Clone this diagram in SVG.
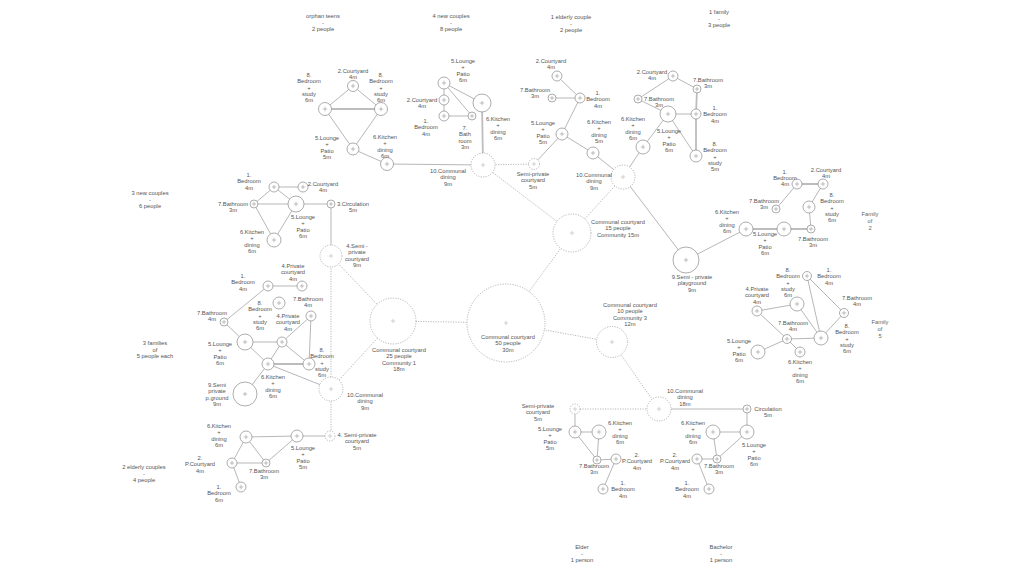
<svg xmlns="http://www.w3.org/2000/svg" xmlns:xlink="http://www.w3.org/1999/xlink" width="1024" height="576" viewBox="0 0 1024 576">
<style>
text{font-family:"Liberation Sans",Arial,sans-serif;font-size:5.8px;fill:#555;text-anchor:middle}
.lt{fill:#666}
.n{fill:#fff;stroke:#8a8a8a;stroke-width:0.7}
.d{fill:#fff;stroke:#999;stroke-width:0.7;stroke-dasharray:1.2 1.3}
.p{stroke:#999;stroke-width:0.6;fill:none}
.pd{stroke:#bbb;stroke-width:0.6;fill:none}
.e{stroke:#a5a5a5;stroke-width:0.8;fill:none}
.t{stroke:#bdbdbd;stroke-width:1.8;fill:none}
.ed{stroke:#999;stroke-width:0.7;stroke-dasharray:1.2 1.3;fill:none}
</style>
<defs>
<path id="pl" class="p" d="M-2.2,0H2.2M0,-2.2V2.2"/>
<path id="pld" class="pd" d="M-2.2,0H2.2M0,-2.2V2.2"/>
</defs>
<rect width="1024" height="576" fill="#fff"/>

<g id="connectors">
<path class="e" d="M353,86L325,109M353,86L381,109M325,109L353,149M381,109L353,149M353,149L387,164M387,164L483,165"/>
<path class="t" d="M325,109L381,109"/>
<path class="e" d="M444,83L444,100M444,100L444,116M444,83L472,116M444,83L482,103M444,116L472,116"/>
<path class="t" d="M482,103L483,165"/>
<path class="e" d="M557,76L580,98M552,98L580,98M580,98L562,134M562,134L593,153M562,134L534,164M593,153L623,177"/>
<path class="e" d="M673,76L638,99M673,76L697,89M638,99L668,114M668,114L696,114M668,114L696,156M668,114L643,147M643,147L623,177"/>
<path class="t" d="M697,89L696,114L696,156"/>
<path class="e" d="M623,177L686,260"/>
<path class="e" d="M797,184L776,209M823,184L809,207M809,207L811,229M746,229L686,260"/>
<path class="t" d="M797,184L823,184M746,229L784,229L811,229"/>
<path class="e" d="M807,276L821,338M807,276L844,313M757,311L797,304M757,311L787,339M797,304L821,338M787,339L821,338M844,313L821,338M787,339L758,352M787,339L800,352"/>
<path class="e" d="M274,187L303,187M274,187L254,204M274,187L296,204M254,204L296,204M254,204L274,240M296,204L274,240M296,204L331,204M331,204L331,256"/>
<path class="e" d="M268,286L302,286M268,286L224,322M224,322L245,342M245,342L282,342M245,342L268,364M282,342L311,316M282,342L309,364M282,342L268,364M311,316L309,364M268,364L331,389M268,364L245,394"/>
<path class="t" d="M268,364L309,364"/>
<path class="e" d="M246,437L297,436M246,437L232,463M246,437L266,463M232,463L266,463M266,463L297,436M232,463L241,487M297,436L330,436"/>
<path class="e" d="M575,409L575,432M575,432L599,432M575,432L597,460M599,432L597,460M597,460L616,459M616,459L603,489"/>
<path class="e" d="M659,409L747,409M747,409L747,432M713,432L747,432M713,432L717,459M747,432L717,459M697,459L717,459M697,459L709,489"/>
<path class="ed" d="M483,165L534,164M483,165L572,233M623,177L572,233M572,233L506,323M393,321L506,323M506,323L612,342M612,342L659,409M575,409L659,409M331,256L393,321M331,389L393,321M331,256L331,389M331,389L331,436"/>
</g>

<g id="group-labels">
<text x="323" y="18"><tspan x="323">orphan teens</tspan><tspan x="323" dy="6.5">-</tspan><tspan x="323" dy="6.5">2 people</tspan></text>
<text x="451" y="18"><tspan x="451">4 new couples</tspan><tspan x="451" dy="6.5">-</tspan><tspan x="451" dy="6.5">8 people</tspan></text>
<text x="571" y="19"><tspan x="571">1 elderly couple</tspan><tspan x="571" dy="6.5">-</tspan><tspan x="571" dy="6.5">2 people</tspan></text>
<text x="719" y="14"><tspan x="719">1 family</tspan><tspan x="719" dy="6.5">-</tspan><tspan x="719" dy="6.5">3 people</tspan></text>
<text x="150" y="195"><tspan x="150">3 new couples</tspan><tspan x="150" dy="6.5">-</tspan><tspan x="150" dy="6.5">6 people</tspan></text>
<text x="155" y="345"><tspan x="155">3 families</tspan><tspan x="155" dy="6.5">of</tspan><tspan x="155" dy="6.5">5 people each</tspan></text>
<text x="144" y="469"><tspan x="144">2 elderly couples</tspan><tspan x="144" dy="6.5">-</tspan><tspan x="144" dy="6.5">4 people</tspan></text>
<text x="870" y="216" class="lt"><tspan x="870">Family</tspan><tspan x="870" dy="7">of</tspan><tspan x="870" dy="7">2</tspan></text>
<text x="880" y="324" class="lt"><tspan x="880">Family</tspan><tspan x="880" dy="7">of</tspan><tspan x="880" dy="7">5</tspan></text>
<text x="582" y="549"><tspan x="582">Elder</tspan><tspan x="582" dy="6.5">-</tspan><tspan x="582" dy="6.5">1 person</tspan></text>
<text x="721" y="549"><tspan x="721">Bachelor</tspan><tspan x="721" dy="6.5">-</tspan><tspan x="721" dy="6.5">1 person</tspan></text>
</g>

<g id="a-courtyard"><circle class="n" cx="353" cy="86" r="5.5"/><use href="#pl" x="353" y="86"/><text x="353" y="73"><tspan x="353">2.Courtyard</tspan><tspan x="353" dy="6.3">4m</tspan></text></g>
<g id="a-bedroom1"><circle class="n" cx="325" cy="109" r="6.5"/><use href="#pl" x="325" y="109"/><text x="309" y="77"><tspan x="309">8.</tspan><tspan x="309" dy="6.3">Bedroom</tspan><tspan x="309" dy="6.3">+</tspan><tspan x="309" dy="6.3">study</tspan><tspan x="309" dy="6.3">6m</tspan></text></g>
<g id="a-bedroom2"><circle class="n" cx="381" cy="109" r="6.5"/><use href="#pl" x="381" y="109"/><text x="381" y="77"><tspan x="381">8.</tspan><tspan x="381" dy="6.3">Bedroom</tspan><tspan x="381" dy="6.3">+</tspan><tspan x="381" dy="6.3">study</tspan><tspan x="381" dy="6.3">6m</tspan></text></g>
<g id="a-lounge"><circle class="n" cx="353" cy="149" r="6"/><use href="#pl" x="353" y="149"/><text x="327" y="140"><tspan x="327">5.Lounge</tspan><tspan x="327" dy="6.3">+</tspan><tspan x="327" dy="6.3">Patio</tspan><tspan x="327" dy="6.3">5m</tspan></text></g>
<g id="a-kitchen"><circle class="n" cx="387" cy="164" r="6.5"/><use href="#pl" x="387" y="164"/><text x="385" y="139"><tspan x="385">6.Kitchen</tspan><tspan x="385" dy="6.3">+</tspan><tspan x="385" dy="6.3">dining</tspan><tspan x="385" dy="6.3">6m</tspan></text></g>
<g id="communal-dining-1"><circle class="d" cx="483" cy="165" r="12"/><use href="#pld" x="483" y="165"/><text x="448" y="173"><tspan x="448">10.Communal</tspan><tspan x="448" dy="6.3">dining</tspan><tspan x="448" dy="6.3">9m</tspan></text></g>

<g id="b-lounge"><circle class="n" cx="444" cy="83" r="6"/><use href="#pl" x="444" y="83"/><text x="463" y="63"><tspan x="463">5.Lounge</tspan><tspan x="463" dy="6.3">+</tspan><tspan x="463" dy="6.3">Patio</tspan><tspan x="463" dy="6.3">6m</tspan></text></g>
<g id="b-courtyard"><circle class="n" cx="444" cy="100" r="5"/><use href="#pl" x="444" y="100"/><text x="422" y="102"><tspan x="422">2.Courtyard</tspan><tspan x="422" dy="6.3">4m</tspan></text></g>
<g id="b-bedroom"><circle class="n" cx="444" cy="116" r="5"/><use href="#pl" x="444" y="116"/><text x="426" y="123"><tspan x="426">1.</tspan><tspan x="426" dy="6.3">Bedroom</tspan><tspan x="426" dy="6.3">4m</tspan></text></g>
<g id="b-bathroom"><circle class="n" cx="472" cy="116" r="4"/><use href="#pl" x="472" y="116"/><text x="465" y="130"><tspan x="465">7.</tspan><tspan x="465" dy="6.3">Bath</tspan><tspan x="465" dy="6.3">room</tspan><tspan x="465" dy="6.3">3m</tspan></text></g>
<g id="b-kitchen"><circle class="n" cx="482" cy="103" r="9"/><use href="#pl" x="482" y="103"/><text x="498" y="121"><tspan x="498">6.Kitchen</tspan><tspan x="498" dy="6.3">+</tspan><tspan x="498" dy="6.3">dining</tspan><tspan x="498" dy="6.3">6m</tspan></text></g>
<g id="semi-private-1"><circle class="d" cx="534" cy="164" r="5.5"/><use href="#pld" x="534" y="164"/><text x="533" y="176"><tspan x="533">Semi-private</tspan><tspan x="533" dy="6.3">courtyard</tspan><tspan x="533" dy="6.3">5m</tspan></text></g>

<g id="c-courtyard"><circle class="n" cx="557" cy="76" r="5"/><use href="#pl" x="557" y="76"/><text x="551" y="63"><tspan x="551">2.Courtyard</tspan><tspan x="551" dy="6.3">4m</tspan></text></g>
<g id="c-bedroom"><circle class="n" cx="580" cy="98" r="5"/><use href="#pl" x="580" y="98"/><text x="598" y="95"><tspan x="598">1.</tspan><tspan x="598" dy="6.3">Bedroom</tspan><tspan x="598" dy="6.3">4m</tspan></text></g>
<g id="c-bathroom"><circle class="n" cx="552" cy="98" r="4"/><use href="#pl" x="552" y="98"/><text x="535" y="92"><tspan x="535">7.Bathroom</tspan><tspan x="535" dy="6.3">3m</tspan></text></g>
<g id="c-lounge"><circle class="n" cx="562" cy="134" r="6"/><use href="#pl" x="562" y="134"/><text x="543" y="125"><tspan x="543">5.Lounge</tspan><tspan x="543" dy="6.3">+</tspan><tspan x="543" dy="6.3">Patio</tspan><tspan x="543" dy="6.3">5m</tspan></text></g>
<g id="c-kitchen"><circle class="n" cx="593" cy="153" r="6"/><use href="#pl" x="593" y="153"/><text x="599" y="124"><tspan x="599">6.Kitchen</tspan><tspan x="599" dy="6.3">+</tspan><tspan x="599" dy="6.3">dining</tspan><tspan x="599" dy="6.3">5m</tspan></text></g>
<g id="communal-dining-2"><circle class="d" cx="623" cy="177" r="12"/><use href="#pld" x="623" y="177"/><text x="594" y="177"><tspan x="594">10.Communal</tspan><tspan x="594" dy="6.3">dining</tspan><tspan x="594" dy="6.3">9m</tspan></text></g>

<g id="d-courtyard"><circle class="n" cx="673" cy="76" r="5"/><use href="#pl" x="673" y="76"/><text x="652" y="74"><tspan x="652">2.Courtyard</tspan><tspan x="652" dy="6.3">4m</tspan></text></g>
<g id="d-bathroom1"><circle class="n" cx="697" cy="89" r="4"/><use href="#pl" x="697" y="89"/><text x="708" y="82"><tspan x="708">7.Bathroom</tspan><tspan x="708" dy="6.3">3m</tspan></text></g>
<g id="d-bathroom2"><circle class="n" cx="638" cy="99" r="4"/><use href="#pl" x="638" y="99"/><text x="659" y="101"><tspan x="659">7.Bathroom</tspan><tspan x="659" dy="6.3">3m</tspan></text></g>
<g id="d-lounge"><circle class="n" cx="668" cy="114" r="8"/><use href="#pl" x="668" y="114"/><text x="669" y="133"><tspan x="669">5.Lounge</tspan><tspan x="669" dy="6.3">+</tspan><tspan x="669" dy="6.3">Patio</tspan><tspan x="669" dy="6.3">6m</tspan></text></g>
<g id="d-bedroom"><circle class="n" cx="696" cy="114" r="5"/><use href="#pl" x="696" y="114"/><text x="715" y="110"><tspan x="715">1.</tspan><tspan x="715" dy="6.3">Bedroom</tspan><tspan x="715" dy="6.3">4m</tspan></text></g>
<g id="d-study"><circle class="n" cx="696" cy="156" r="6"/><use href="#pl" x="696" y="156"/><text x="715" y="146"><tspan x="715">8.</tspan><tspan x="715" dy="6.3">Bedroom</tspan><tspan x="715" dy="6.3">+</tspan><tspan x="715" dy="6.3">study</tspan><tspan x="715" dy="6.3">5m</tspan></text></g>
<g id="d-kitchen"><circle class="n" cx="643" cy="147" r="7"/><use href="#pl" x="643" y="147"/><text x="633" y="121"><tspan x="633">6.Kitchen</tspan><tspan x="633" dy="6.3">+</tspan><tspan x="633" dy="6.3">dining</tspan><tspan x="633" dy="6.3">6m</tspan></text></g>
<g id="playground"><circle class="n" cx="686" cy="260" r="13"/><use href="#pl" x="686" y="260"/><text x="692" y="279"><tspan x="692">9.Semi - private</tspan><tspan x="692" dy="6.3">playground</tspan><tspan x="692" dy="6.3">9m</tspan></text></g>

<g id="e-bedroom"><circle class="n" cx="797" cy="184" r="5"/><use href="#pl" x="797" y="184"/><text x="785" y="174"><tspan x="785">1.</tspan><tspan x="785" dy="6">Bedroom</tspan><tspan x="785" dy="6">4m</tspan></text></g>
<g id="e-courtyard"><circle class="n" cx="823" cy="184" r="5"/><use href="#pl" x="823" y="184"/><text x="826" y="172"><tspan x="826">2.Courtyard</tspan><tspan x="826" dy="6.3">4m</tspan></text></g>
<g id="e-bathroom1"><circle class="n" cx="776" cy="209" r="4"/><use href="#pl" x="776" y="209"/><text x="764" y="203"><tspan x="764">7.Bathroom</tspan><tspan x="764" dy="6.3">3m</tspan></text></g>
<g id="e-study"><circle class="n" cx="809" cy="207" r="6"/><use href="#pl" x="809" y="207"/><text x="832" y="197"><tspan x="832">8.</tspan><tspan x="832" dy="6.3">Bedroom</tspan><tspan x="832" dy="6.3">+</tspan><tspan x="832" dy="6.3">study</tspan><tspan x="832" dy="6.3">6m</tspan></text></g>
<g id="e-kitchen"><circle class="n" cx="746" cy="229" r="7"/><use href="#pl" x="746" y="229"/><text x="727" y="214"><tspan x="727">6.Kitchen</tspan><tspan x="727" dy="6.3">+</tspan><tspan x="727" dy="6.3">dining</tspan><tspan x="727" dy="6.3">6m</tspan></text></g>
<g id="e-lounge"><circle class="n" cx="784" cy="229" r="7"/><use href="#pl" x="784" y="229"/><text x="765" y="236"><tspan x="765">5.Lounge</tspan><tspan x="765" dy="6.3">+</tspan><tspan x="765" dy="6.3">Patio</tspan><tspan x="765" dy="6.3">6m</tspan></text></g>
<g id="e-bathroom2"><circle class="n" cx="811" cy="229" r="4"/><use href="#pl" x="811" y="229"/><text x="813" y="241"><tspan x="813">7.Bathroom</tspan><tspan x="813" dy="6.3">3m</tspan></text></g>

<g id="f-bedroom"><circle class="n" cx="807" cy="276" r="4.5"/><use href="#pl" x="807" y="276"/><text x="829" y="272"><tspan x="829">1.</tspan><tspan x="829" dy="6.3">Bedroom</tspan><tspan x="829" dy="6.3">4m</tspan></text></g>
<g id="f-study1"><circle class="n" cx="797" cy="304" r="7"/><use href="#pl" x="797" y="304"/><text x="788" y="272"><tspan x="788">8.</tspan><tspan x="788" dy="6.3">Bedroom</tspan><tspan x="788" dy="6.3">+</tspan><tspan x="788" dy="6.3">study</tspan><tspan x="788" dy="6.3">6m</tspan></text></g>
<g id="f-courtyard"><circle class="n" cx="757" cy="311" r="5"/><use href="#pl" x="757" y="311"/><text x="757" y="291"><tspan x="757">4.Private</tspan><tspan x="757" dy="6.3">courtyard</tspan><tspan x="757" dy="6.3">4m</tspan></text></g>
<g id="f-bathroom1"><circle class="n" cx="844" cy="313" r="4.5"/><use href="#pl" x="844" y="313"/><text x="857" y="300"><tspan x="857">7.Bathroom</tspan><tspan x="857" dy="6.3">4m</tspan></text></g>
<g id="f-bathroom2"><circle class="n" cx="787" cy="339" r="4.5"/><use href="#pl" x="787" y="339"/><text x="793" y="325"><tspan x="793">7.Bathroom</tspan><tspan x="793" dy="6.3">4m</tspan></text></g>
<g id="f-study2"><circle class="n" cx="821" cy="338" r="7"/><use href="#pl" x="821" y="338"/><text x="847" y="328"><tspan x="847">8.</tspan><tspan x="847" dy="6.3">Bedroom</tspan><tspan x="847" dy="6.3">+</tspan><tspan x="847" dy="6.3">study</tspan><tspan x="847" dy="6.3">6m</tspan></text></g>
<g id="f-lounge"><circle class="n" cx="758" cy="352" r="7"/><use href="#pl" x="758" y="352"/><text x="739" y="343"><tspan x="739">5.Lounge</tspan><tspan x="739" dy="6.3">+</tspan><tspan x="739" dy="6.3">Patio</tspan><tspan x="739" dy="6.3">6m</tspan></text></g>
<g id="f-kitchen"><circle class="n" cx="800" cy="352" r="5"/><use href="#pl" x="800" y="352"/><text x="800" y="364"><tspan x="800">6.Kitchen</tspan><tspan x="800" dy="6.3">+</tspan><tspan x="800" dy="6.3">dining</tspan><tspan x="800" dy="6.3">6m</tspan></text></g>

<g id="g-bedroom"><circle class="n" cx="274" cy="187" r="5"/><use href="#pl" x="274" y="187"/><text x="249" y="177"><tspan x="249">1.</tspan><tspan x="249" dy="6.3">Bedroom</tspan><tspan x="249" dy="6.3">4m</tspan></text></g>
<g id="g-courtyard"><circle class="n" cx="303" cy="187" r="5"/><use href="#pl" x="303" y="187"/><text x="323" y="186"><tspan x="323">2.Courtyard</tspan><tspan x="323" dy="6.3">4m</tspan></text></g>
<g id="g-bathroom"><circle class="n" cx="254" cy="204" r="4"/><use href="#pl" x="254" y="204"/><text x="233" y="206"><tspan x="233">7.Bathroom</tspan><tspan x="233" dy="6.3">3m</tspan></text></g>
<g id="g-lounge"><circle class="n" cx="296" cy="204" r="8"/><use href="#pl" x="296" y="204"/><text x="303" y="219"><tspan x="303">5.Lounge</tspan><tspan x="303" dy="6.3">+</tspan><tspan x="303" dy="6.3">Patio</tspan><tspan x="303" dy="6.3">6m</tspan></text></g>
<g id="g-circulation"><circle class="n" cx="331" cy="204" r="4"/><use href="#pl" x="331" y="204"/><text x="353" y="206"><tspan x="353">3.Circulation</tspan><tspan x="353" dy="6.3">5m</tspan></text></g>
<g id="g-kitchen"><circle class="n" cx="274" cy="240" r="7"/><use href="#pl" x="274" y="240"/><text x="252" y="234"><tspan x="252">6.Kitchen</tspan><tspan x="252" dy="6.3">+</tspan><tspan x="252" dy="6.3">dining</tspan><tspan x="252" dy="6.3">6m</tspan></text></g>
<g id="semi-private-4"><circle class="d" cx="331" cy="256" r="11"/><use href="#pld" x="331" y="256"/><text x="357" y="248"><tspan x="357">4.Semi -</tspan><tspan x="357" dy="6.3">private</tspan><tspan x="357" dy="6.3">courtyard</tspan><tspan x="357" dy="6.3">9m</tspan></text></g>

<g id="h-bedroom"><circle class="n" cx="268" cy="286" r="5"/><use href="#pl" x="268" y="286"/><text x="243" y="278"><tspan x="243">1.</tspan><tspan x="243" dy="6.3">Bedroom</tspan><tspan x="243" dy="6.3">4m</tspan></text></g>
<g id="h-courtyard1"><circle class="n" cx="302" cy="286" r="5"/><use href="#pl" x="302" y="286"/><text x="293" y="268"><tspan x="293">4.Private</tspan><tspan x="293" dy="6.3">courtyard</tspan><tspan x="293" dy="6.3">4m</tspan></text></g>
<g id="h-study1"><circle class="n" cx="279" cy="303" r="6"/><use href="#pl" x="279" y="303"/><text x="260" y="305"><tspan x="260">8.</tspan><tspan x="260" dy="6.3">Bedroom</tspan><tspan x="260" dy="6.3">+</tspan><tspan x="260" dy="6.3">study</tspan><tspan x="260" dy="6.3">6m</tspan></text></g>
<g id="h-bathroom1"><circle class="n" cx="311" cy="316" r="5"/><use href="#pl" x="311" y="316"/><text x="308" y="301"><tspan x="308">7.Bathroom</tspan><tspan x="308" dy="6.3">4m</tspan></text></g>
<g id="h-bathroom2"><circle class="n" cx="224" cy="322" r="4"/><use href="#pl" x="224" y="322"/><text x="212" y="315"><tspan x="212">7.Bathroom</tspan><tspan x="212" dy="6.3">4m</tspan></text></g>
<g id="h-courtyard2"><circle class="n" cx="282" cy="342" r="5"/><use href="#pl" x="282" y="342"/><text x="288" y="318"><tspan x="288">4.Private</tspan><tspan x="288" dy="6.3">courtyard</tspan><tspan x="288" dy="6.3">4m</tspan></text></g>
<g id="h-lounge"><circle class="n" cx="245" cy="342" r="8"/><use href="#pl" x="245" y="342"/><text x="220" y="346"><tspan x="220">5.Lounge</tspan><tspan x="220" dy="6.3">+</tspan><tspan x="220" dy="6.3">Patio</tspan><tspan x="220" dy="6.3">6m</tspan></text></g>
<g id="h-kitchen"><circle class="n" cx="268" cy="364" r="6"/><use href="#pl" x="268" y="364"/><text x="273" y="379"><tspan x="273">6.Kitchen</tspan><tspan x="273" dy="6.3">+</tspan><tspan x="273" dy="6.3">dining</tspan><tspan x="273" dy="6.3">6m</tspan></text></g>
<g id="h-study2"><circle class="n" cx="309" cy="364" r="6"/><use href="#pl" x="309" y="364"/><text x="322" y="352"><tspan x="322">8.</tspan><tspan x="322" dy="6.3">Bedroom</tspan><tspan x="322" dy="6.3">+</tspan><tspan x="322" dy="6.3">study</tspan><tspan x="322" dy="6.3">6m</tspan></text></g>
<g id="h-playground"><circle class="n" cx="245" cy="394" r="12"/><use href="#pl" x="245" y="394"/><text x="217" y="387"><tspan x="217">9.Semi</tspan><tspan x="217" dy="6.3">private</tspan><tspan x="217" dy="6.3">p.ground</tspan><tspan x="217" dy="6.3">9m</tspan></text></g>
<g id="communal-dining-3"><circle class="d" cx="331" cy="389" r="12"/><use href="#pld" x="331" y="389"/><text x="365" y="397"><tspan x="365">10.Communal</tspan><tspan x="365" dy="6.3">dining</tspan><tspan x="365" dy="6.3">9m</tspan></text></g>

<g id="courtyard-15"><circle class="d" cx="572" cy="233" r="19"/><use href="#pld" x="572" y="233"/><text x="618" y="224"><tspan x="618">Communal courtyard</tspan><tspan x="618" dy="6.3">15 people</tspan><tspan x="618" dy="6.3">Community 15m</tspan></text></g>
<g id="courtyard-25"><circle class="d" cx="393" cy="321" r="23"/><use href="#pld" x="393" y="321"/><text x="399" y="352"><tspan x="399">Communal courtyard</tspan><tspan x="399" dy="6.3">25 people</tspan><tspan x="399" dy="6.3">Community 1</tspan><tspan x="399" dy="6.3">18m</tspan></text></g>
<g id="courtyard-50"><circle class="d" cx="506" cy="323" r="39"/><use href="#pld" x="506" y="323"/><text x="508" y="339"><tspan x="508">Communal courtyard</tspan><tspan x="508" dy="6.3">50 people</tspan><tspan x="508" dy="6.3">30m</tspan></text></g>
<g id="courtyard-10"><circle class="d" cx="612" cy="342" r="15.5"/><use href="#pld" x="612" y="342"/><text x="630" y="307"><tspan x="630">Communal courtyard</tspan><tspan x="630" dy="6.3">10 people</tspan><tspan x="630" dy="6.3">Community 3</tspan><tspan x="630" dy="6.3">12m</tspan></text></g>

<g id="i-kitchen"><circle class="n" cx="246" cy="437" r="6"/><use href="#pl" x="246" y="437"/><text x="219" y="428"><tspan x="219">6.Kitchen</tspan><tspan x="219" dy="6.3">+</tspan><tspan x="219" dy="6.3">dining</tspan><tspan x="219" dy="6.3">6m</tspan></text></g>
<g id="i-lounge"><circle class="n" cx="297" cy="436" r="6"/><use href="#pl" x="297" y="436"/><text x="303" y="450"><tspan x="303">5.Lounge</tspan><tspan x="303" dy="6.3">+</tspan><tspan x="303" dy="6.3">Patio</tspan><tspan x="303" dy="6.3">5m</tspan></text></g>
<g id="semi-private-5"><circle class="d" cx="330" cy="436" r="5"/><use href="#pld" x="330" y="436"/><text x="357" y="437"><tspan x="357">4. Semi-private</tspan><tspan x="357" dy="6.3">courtyard</tspan><tspan x="357" dy="6.3">5m</tspan></text></g>
<g id="i-courtyard"><circle class="n" cx="232" cy="463" r="5"/><use href="#pl" x="232" y="463"/><text x="200" y="460"><tspan x="200">2.</tspan><tspan x="200" dy="6.3">P.Courtyard</tspan><tspan x="200" dy="6.3">4m</tspan></text></g>
<g id="i-bathroom"><circle class="n" cx="266" cy="463" r="4"/><use href="#pl" x="266" y="463"/><text x="264" y="473"><tspan x="264">7.Bathroom</tspan><tspan x="264" dy="6.3">3m</tspan></text></g>
<g id="i-bedroom"><circle class="n" cx="241" cy="487" r="5"/><use href="#pl" x="241" y="487"/><text x="219" y="489"><tspan x="219">1.</tspan><tspan x="219" dy="6.3">Bedroom</tspan><tspan x="219" dy="6.3">6m</tspan></text></g>

<g id="semi-private-6"><circle class="d" cx="575" cy="409" r="5"/><use href="#pld" x="575" y="409"/><text x="538" y="408"><tspan x="538">Semi-private</tspan><tspan x="538" dy="6.3">courtyard</tspan><tspan x="538" dy="6.3">5m</tspan></text></g>
<g id="j-lounge"><circle class="n" cx="575" cy="432" r="6"/><use href="#pl" x="575" y="432"/><text x="550" y="431"><tspan x="550">5.Lounge</tspan><tspan x="550" dy="6.3">+</tspan><tspan x="550" dy="6.3">Patio</tspan><tspan x="550" dy="6.3">5m</tspan></text></g>
<g id="j-kitchen"><circle class="n" cx="599" cy="432" r="7"/><use href="#pl" x="599" y="432"/><text x="620" y="425"><tspan x="620">6.Kitchen</tspan><tspan x="620" dy="6.3">+</tspan><tspan x="620" dy="6.3">dining</tspan><tspan x="620" dy="6.3">6m</tspan></text></g>
<g id="j-bathroom"><circle class="n" cx="597" cy="460" r="4"/><use href="#pl" x="597" y="460"/><text x="594" y="468"><tspan x="594">7.Bathroom</tspan><tspan x="594" dy="6.3">3m</tspan></text></g>
<g id="j-courtyard"><circle class="n" cx="616" cy="459" r="5"/><use href="#pl" x="616" y="459"/><text x="637" y="457"><tspan x="637">2.</tspan><tspan x="637" dy="6.3">P.Courtyard</tspan><tspan x="637" dy="6.3">4m</tspan></text></g>
<g id="j-bedroom"><circle class="n" cx="603" cy="489" r="5"/><use href="#pl" x="603" y="489"/><text x="623" y="485"><tspan x="623">1.</tspan><tspan x="623" dy="6.3">Bedroom</tspan><tspan x="623" dy="6.3">4m</tspan></text></g>
<g id="communal-dining-4"><circle class="d" cx="659" cy="409" r="12"/><use href="#pld" x="659" y="409"/><text x="685" y="393"><tspan x="685">10.Communal</tspan><tspan x="685" dy="6.3">dining</tspan><tspan x="685" dy="6.3">18m</tspan></text></g>

<g id="k-circulation"><circle class="n" cx="747" cy="409" r="4"/><use href="#pl" x="747" y="409"/><text x="768" y="411"><tspan x="768">Circulation</tspan><tspan x="768" dy="6.3">5m</tspan></text></g>
<g id="k-kitchen"><circle class="n" cx="713" cy="432" r="7"/><use href="#pl" x="713" y="432"/><text x="693" y="425"><tspan x="693">6.Kitchen</tspan><tspan x="693" dy="6.3">+</tspan><tspan x="693" dy="6.3">dining</tspan><tspan x="693" dy="6.3">6m</tspan></text></g>
<g id="k-lounge"><circle class="n" cx="747" cy="432" r="7"/><use href="#pl" x="747" y="432"/><text x="754" y="447"><tspan x="754">5.Lounge</tspan><tspan x="754" dy="6.3">+</tspan><tspan x="754" dy="6.3">Patio</tspan><tspan x="754" dy="6.3">6m</tspan></text></g>
<g id="k-courtyard"><circle class="n" cx="697" cy="459" r="5"/><use href="#pl" x="697" y="459"/><text x="675" y="457"><tspan x="675">2.</tspan><tspan x="675" dy="6.3">P.Courtyard</tspan><tspan x="675" dy="6.3">4m</tspan></text></g>
<g id="k-bathroom"><circle class="n" cx="717" cy="459" r="4"/><use href="#pl" x="717" y="459"/><text x="719" y="468"><tspan x="719">7.Bathroom</tspan><tspan x="719" dy="6.3">3m</tspan></text></g>
<g id="k-bedroom"><circle class="n" cx="709" cy="489" r="5"/><use href="#pl" x="709" y="489"/><text x="687" y="485"><tspan x="687">1.</tspan><tspan x="687" dy="6.3">Bedroom</tspan><tspan x="687" dy="6.3">4m</tspan></text></g>
</svg>
